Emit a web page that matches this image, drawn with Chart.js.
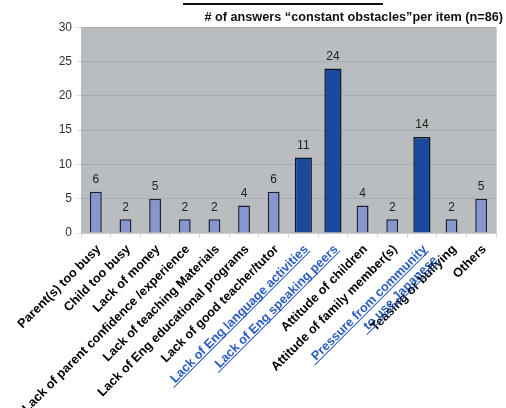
<!DOCTYPE html>
<html>
<head>
<meta charset="utf-8">
<script src="https://cdn.jsdelivr.net/npm/chart.js@4.4.0/dist/chart.umd.min.js"></script>
<style>
  html, body { margin: 0; padding: 0; background: #fff; }
  #wrap { position: relative; width: 506px; height: 408px; }
  #topline { position: absolute; left: 183px; top: 3px; width: 200px; border-top: 2px solid #111; }
</style>
</head>
<body>
<div id="wrap">
  <div id="topline"></div>
  <canvas id="chart" width="506" height="408"></canvas>
</div>
<script>
const categories = [
    'Parent(s) too busy',
    'Child too busy',
    'Lack of money',
    'Lack of parent confidence /experience',
    'Lack of teaching Materials',
    'Lack of Eng educational programs',
    'Lack of good teacher/tutor',
    'Lack of Eng language activities',
    'Lack of Eng speaking peers',
    'Attitude of children',
    'Attitude of family member(s)',
    ['Pressure from community', 'to use Japanese'],
    'Teasing or bullying',
    'Others'
];
const answers = [6, 2, 5, 2, 2, 4, 6, 11, 24, 4, 2, 14, 2, 5];
const highlighted = [false, false, false, false, false, false, false, true, true, false, false, true, false, false];
const yTicks = [0, 5, 10, 15, 20, 25, 30];

const lightBars = answers.map((v, i) => highlighted[i] ? null : v);
const darkBars = answers.map((v, i) => highlighted[i] ? v : null);

const plotBackground = {
    id: 'plotBackground',
    beforeDraw(chart) {
        const a = chart.chartArea;
        const c = chart.ctx;
        c.save();
        c.fillStyle = '#b9bdc0';
        c.fillRect(a.left, a.top, a.right - a.left, a.bottom - a.top);
        c.restore();
    }
};

const valueLabels = {
    id: 'valueLabels',
    afterDatasetsDraw(chart) {
        const c = chart.ctx;
        c.save();
        c.font = '12px "Liberation Sans", Arial, sans-serif';
        c.fillStyle = '#222';
        c.textAlign = 'center';
        c.textBaseline = 'bottom';
        chart.data.datasets.forEach((ds, di) => {
            chart.getDatasetMeta(di).data.forEach((bar, i) => {
                if (ds.data[i] == null) return;
                c.fillText(ds.data[i], bar.x, bar.y - 6);
            });
        });
        c.restore();
    }
};

// underline the blue (highlighted) category labels, following the label items of the x scale
const labelUnderline = {
    id: 'labelUnderline',
    afterDraw(chart) {
        const items = chart.scales.x.getLabelItems();
        const c = chart.ctx;
        c.save();
        c.strokeStyle = '#2b5cc0';
        c.lineWidth = 1;
        items.forEach((item, i) => {
            if (!highlighted[i]) return;
            const lines = Array.isArray(item.label) ? item.label : [item.label];
            const o = item.options;
            c.save();
            c.font = item.font.string;
            c.translate(o.translation[0], o.translation[1]);
            c.rotate(o.rotation);
            lines.forEach((t, j) => {
                const w = c.measureText(t).width;
                const y = item.textOffset + j * item.font.lineHeight + item.font.size * 0.42;
                c.beginPath();
                c.moveTo(-w - 4, y);
                c.lineTo(0, y);
                c.stroke();
            });
            c.restore();
        });
        c.restore();
    }
};

new Chart(document.getElementById('chart').getContext('2d'), {
    type: 'bar',
    data: {
        labels: categories,
        datasets: [{
            data: lightBars,
            backgroundColor: '#8796cf',
            borderColor: '#1e2030',
            borderWidth: 1.5,
            borderSkipped: 'bottom',
            barPercentage: 0.4,
            categoryPercentage: 1,
            grouped: false
        }, {
            data: darkBars,
            backgroundColor: '#1b4a9c',
            borderColor: '#101828',
            borderWidth: 1.5,
            borderSkipped: 'bottom',
            barPercentage: 0.58,
            categoryPercentage: 1,
            grouped: false
        }]
    },
    options: {
        responsive: false,
        animation: false,
        layout: { padding: { left: 4, right: 3, top: 0, bottom: 0 } },
        scales: {
            x: {
                grid: {
                    offset: true,
                    drawOnChartArea: false,
                    color: '#d6d8da',
                    tickLength: 5
                },
                border: { color: '#c8cacc' },
                ticks: {
                    autoSkip: false,
                    minRotation: 45,
                    maxRotation: 45,
                    padding: 4,
                    labelOffset: 3,
                    color: (ctx) => highlighted[ctx.index] ? '#2b5cc0' : '#000',
                    font: { family: '"Liberation Sans", Arial, sans-serif', size: 12.7, weight: 'bold' }
                },
                afterFit: (axis) => { axis.height = 175; }
            },
            y: {
                min: 0,
                max: 30,
                afterBuildTicks: (axis) => { axis.ticks = yTicks.map(v => ({ value: v })); },
                grid: {
                    color: '#a9adb1',
                    tickLength: 4,
                    tickColor: '#d6d8da'
                },
                border: { display: false },
                ticks: {
                    color: '#333',
                    padding: 5,
                    font: { family: '"Liberation Sans", Arial, sans-serif', size: 12 }
                },
                afterFit: (axis) => { axis.width = 77; }
            },
            edge: {
                position: 'right',
                min: 0,
                max: 30,
                grid: { display: false },
                border: { color: '#d0d2d4', width: 1 },
                ticks: { display: false },
                afterFit: (axis) => { axis.width = 7; }
            }
        },
        plugins: {
            legend: { display: false },
            tooltip: { enabled: false },
            title: {
                display: true,
                text: '# of answers \u201cconstant obstacles\u201dper item (n=86)',
                align: 'end',
                color: '#111',
                font: { family: '"Liberation Sans", Arial, sans-serif', size: 12.7, weight: 'bold' },
                padding: { top: 10, bottom: 2 }
            }
        }
    },
    plugins: [plotBackground, valueLabels, labelUnderline]
});
</script>
</body>
</html>
